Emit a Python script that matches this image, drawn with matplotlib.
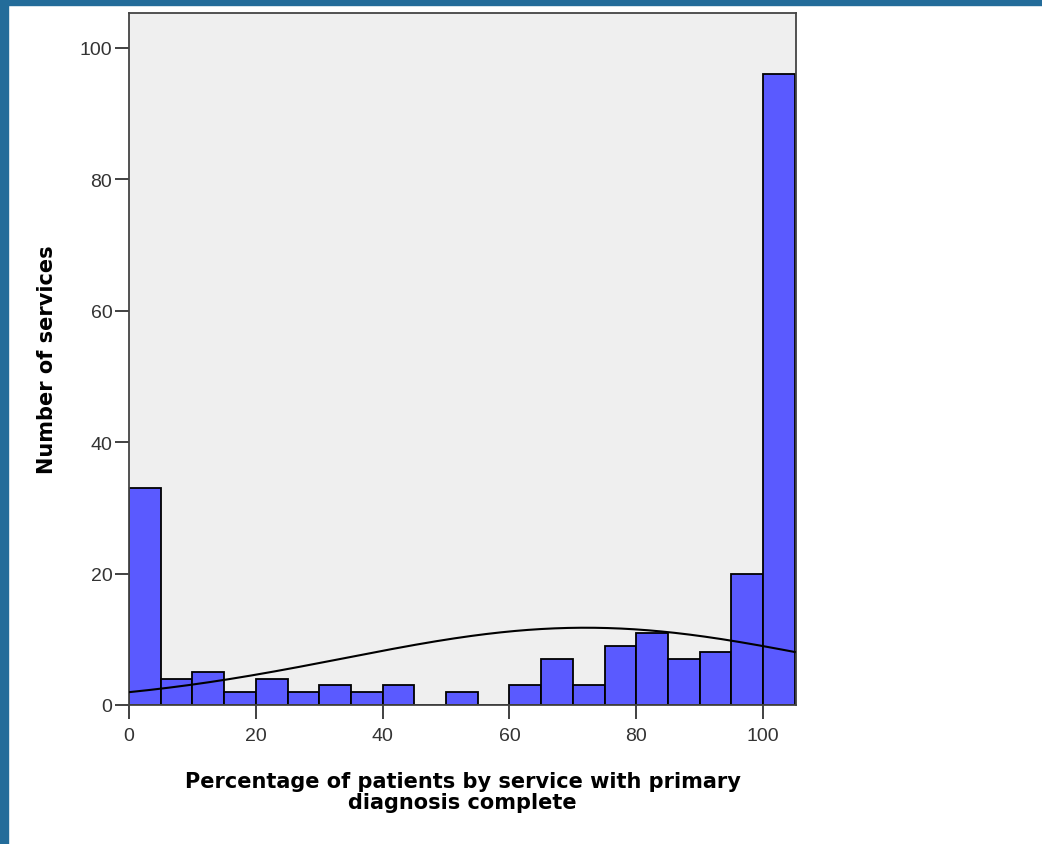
import numpy as np
import matplotlib.pyplot as plt
from matplotlib.patches import Rectangle

# DATA
bin_edges = np.arange(0, 110, 5)
counts = [33, 4, 5, 2, 4, 2, 3, 2, 3, 0, 2, 0, 3, 7, 3, 9, 11, 7, 8, 20, 96]
curve_mean = 72.0
curve_std = 38.0
x_ticks = [0, 20, 40, 60, 80, 100]
y_ticks = [0, 20, 40, 60, 80, 100]

fig = plt.figure(figsize=(10.42, 8.45), dpi=100)
fig.patch.set_facecolor("white")

# blue frame on top and left
fig.add_artist(Rectangle((0, 1 - 6 / 845), 1, 6 / 845, transform=fig.transFigure,
                         color="#236c9a", zorder=10))
fig.add_artist(Rectangle((0, 0), 8 / 1042, 1, transform=fig.transFigure,
                         color="#236c9a", zorder=10))

ax = fig.add_axes([129 / 1042, 1 - 706 / 845, 667 / 1042, 692 / 845])
ax.set_facecolor("#efefef")

ax.bar(bin_edges[:-1], counts, width=5, align="edge", color="#5a5aff",
       edgecolor="black", linewidth=1.3, zorder=2)

# normal curve scaled to counts
n_total = sum(counts)
xs = np.linspace(0, 105, 400)
ys = n_total * 5 / (curve_std * np.sqrt(2 * np.pi)) * np.exp(-(xs - curve_mean) ** 2 / (2 * curve_std ** 2))
ax.plot(xs, ys, color="black", linewidth=1.5, zorder=3)

ax.set_xlim(0, 105.2)
ax.set_ylim(0, 105.3)
ax.set_xticks(x_ticks)
ax.set_yticks(y_ticks)

for s in ax.spines.values():
    s.set_color("#444444")
    s.set_linewidth(1.3)

ax.tick_params(direction="out", length=10, width=1.3, color="#333333",
               labelsize=14, labelcolor="#333333", pad=2)
ax.tick_params(axis="x", pad=6)
for lab in ax.get_xticklabels() + ax.get_yticklabels():
    lab.set_family("Liberation Sans")

ax.set_xlabel("Percentage of patients by service with primary\ndiagnosis complete",
              fontsize=15, fontweight="bold", linespacing=1.05)
ax.xaxis.set_label_coords(0.5, -0.096)
ax.set_ylabel("Number of services", fontsize=15, fontweight="bold")
ax.yaxis.set_label_coords(-0.108, 0.5)

fig.savefig("out.png", dpi=100)
